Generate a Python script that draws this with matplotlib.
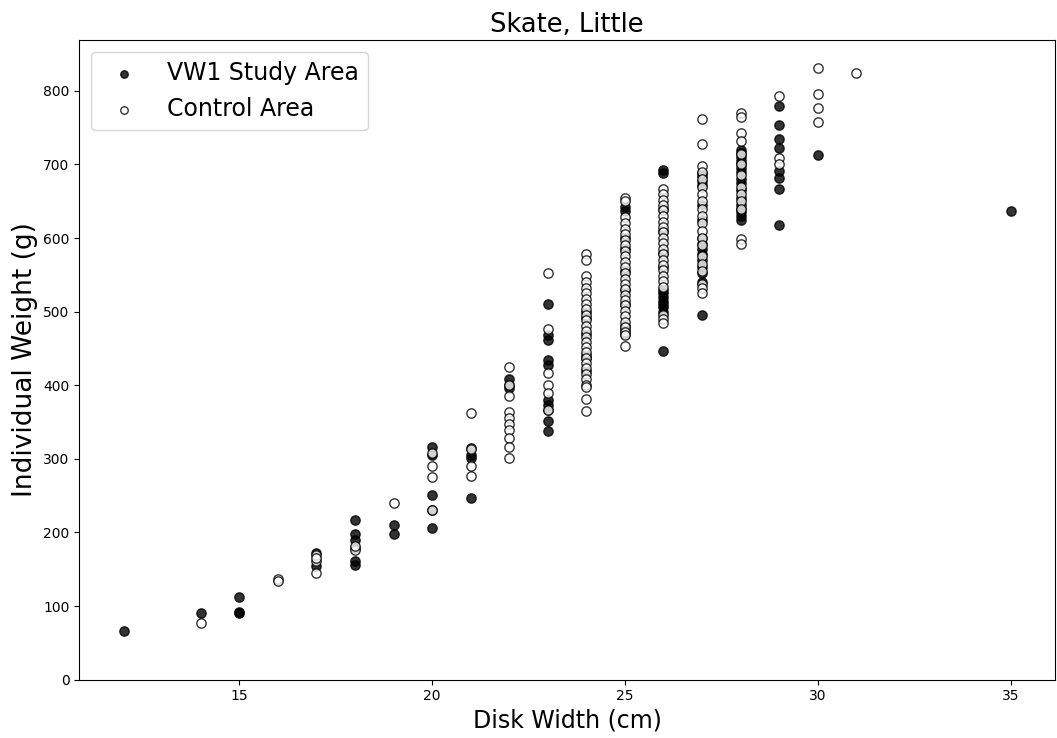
import matplotlib
matplotlib.use("Agg")
from matplotlib import pyplot as plt

# VW1 study area: disk width (cm) -> list of weights (g)
vw1 = {
    12: [66],
    14: [91],
    15: [113, 92, 91],
    17: [155, 172],
    18: [217, 198, 190, 179, 161, 156],
    19: [210, 198],
    20: [316, 305, 251, 231, 206],
    21: [315, 305, 301, 247],
    22: [408, 396, 400],
    23: [510, 468, 461, 434, 427, 380, 373, 366, 351, 338],
    24: [500, 492, 470, 441, 437, 420],
    25: [637, 642, 600, 585, 555, 530, 510, 480, 475, 470],
    26: [689, 692, 640, 610, 580, 560, 530, 525, 520, 515, 510, 506, 500, 446],
    27: [689, 684, 678, 672, 645, 625, 600, 592, 585, 579, 570, 560, 552,
         540, 496],
    28: [720, 715, 710, 705, 700, 695, 690, 680, 675, 665, 655, 645, 640,
         635, 630, 625],
    29: [780, 753, 735, 723, 691, 682, 667, 618],
    30: [713],
    35: [637],
}

# Control area: disk width (cm) -> list of weights (g)
control = {
    14: [77],
    16: [137, 134],
    17: [145, 161, 170, 166],
    18: [176, 182],
    19: [240],
    20: [308, 290, 275, 231],
    21: [362, 313, 290, 277],
    22: [425, 400, 386, 363, 355, 348, 339, 328, 316, 301],
    23: [552, 477, 416, 400, 389, 366],
    24: [578, 570, 548, 540, 532, 525, 517, 510, 503, 496, 488, 481, 474,
         466, 459, 452, 445, 437, 430, 423, 415, 408, 401, 397, 381, 365],
    25: [655, 650, 628, 620, 612, 605, 597, 590, 582, 575, 568, 560, 553,
         545, 538, 531, 523, 516, 509, 501, 494, 486, 479, 472, 468, 453],
    26: [667, 660, 652, 645, 638, 630, 622, 615, 608, 600, 593, 585, 578,
         570, 563, 556, 548, 541, 534, 495, 490, 484],
    27: [762, 728, 698, 690, 680, 670, 660, 650, 640, 630, 620, 610, 600,
         590, 575, 565, 555, 538, 532, 525],
    28: [770, 765, 743, 732, 714, 700, 685, 670, 660, 650, 640, 599, 592],
    29: [793, 709, 701],
    30: [831, 796, 777, 757],
    31: [824],
}


def flatten(d):
    xs, ys = [], []
    for k, vals in d.items():
        xs += [k] * len(vals)
        ys += vals
    return xs, ys


x1, y1 = flatten(vw1)
x2, y2 = flatten(control)

fig = plt.figure(figsize=(10.57, 7.38), dpi=100)
ax = fig.add_axes([0.075, 0.079, 0.923, 0.867])

ax.scatter(x1, y1, s=45, color="black", alpha=0.8, label="VW1 Study Area")
ax.scatter(x2, y2, s=45, facecolors="white", edgecolors="black", alpha=0.8,
           label="Control Area")

ax.set_ylim(bottom=0)
ax.set_title("Skate, Little", fontsize=18.5)
ax.set_xlabel("Disk Width (cm)", fontsize=17)
ax.set_ylabel("Individual Weight (g)", fontsize=19)
ax.tick_params(labelsize=10)
ax.legend(loc="upper left", fontsize=17, markerscale=0.8)

plt.savefig("out.png")
